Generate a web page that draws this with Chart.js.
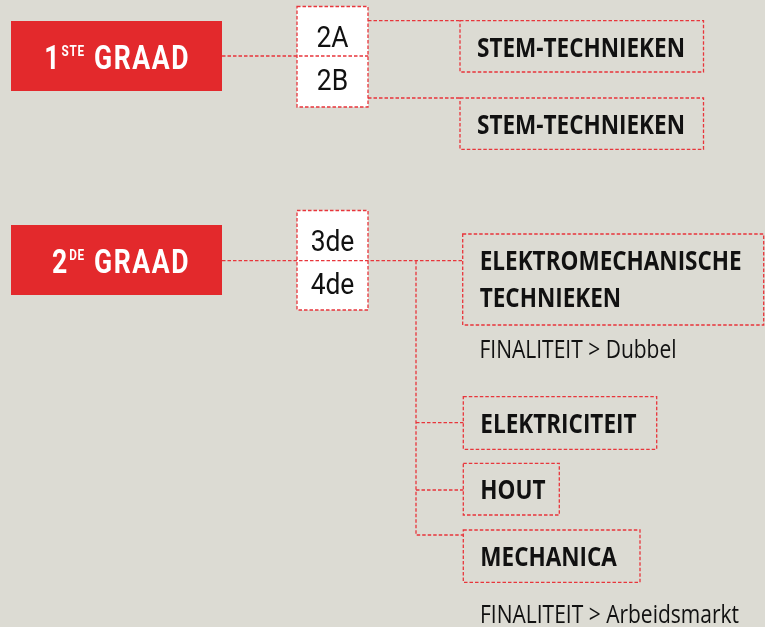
<!DOCTYPE html>
<html>
<head>
<meta charset="utf-8">
<script src="https://cdn.jsdelivr.net/npm/chart.js@4.4.1/dist/chart.umd.min.js"></script>
<style>
  html, body { margin: 0; padding: 0; background: #dcdbd3; }
  #wrap { width: 765px; height: 627px; }
</style>
</head>
<body>
<div id="wrap"><canvas id="schema" width="765" height="627"></canvas></div>
<script>
// inhoud van het schema
const graden = ['1', '2'];
const gradenSup = ['STE', 'DE'];
const gradenWoord = 'GRAAD';
const jaren = [['2A', '2B'], ['3de', '4de']];
const richtingen1 = [['STEM-TECHNIEKEN'], ['STEM-TECHNIEKEN']];
const richtingen2 = [['ELEKTROMECHANISCHE', 'TECHNIEKEN'], ['ELEKTRICITEIT'], ['HOUT'], ['MECHANICA']];
const finaliteiten = ['FINALITEIT > Dubbel', 'FINALITEIT > Arbeidsmarkt'];

// kleuren
const rood = '#e3292c';
const streep = '#e8353b';
const achtergrond = '#dcdbd3';
const zwart = '#111111';

// layout (in schema-eenheden, 1 eenheid = 1 px)
const gradeBoxes = [
  {x: 11, y: 21, w: 211, h: 70},
  {x: 11, y: 225, w: 211, h: 70}
];
const jaarBoxes = [
  {x: 297, y: 6.5, w: 71, h: 100.5, split: 56},
  {x: 297, y: 210.5, w: 71, h: 99.5, split: 260.7}
];
const richtingBoxes = [
  {x: 460, y: 20.7, w: 243.5, h: 51.3},
  {x: 460, y: 98, w: 243.5, h: 51.3},
  {x: 462.7, y: 234, w: 301, h: 91},
  {x: 463.3, y: 396.7, w: 193.4, h: 52.6},
  {x: 463.3, y: 463.3, w: 96, h: 51.7},
  {x: 463.3, y: 530, w: 176.7, h: 52.3}
];
const finaliteitPos = [{x: 479.5, y: 358.3}, {x: 480, y: 622.7}];
const verbindingen = [
  [[222, 56], [368, 56]],
  [[368, 20.7], [460, 20.7]],
  [[368, 98], [460, 98]],
  [[222, 260.7], [462.7, 260.7]],
  [[416, 260.7], [416, 535], [463.3, 535]],
  [[416, 422.7], [463.3, 422.7]],
  [[416, 490], [463.3, 490]]
];

const fontVet = 'bold 26px "Open Sans", "DejaVu Sans", sans-serif';
const fontLicht = '26px "Open Sans", "DejaVu Sans", sans-serif';
const fontGraad = 'bold 34px Roboto, "DejaVu Sans", sans-serif';
const fontSup = 'bold 15px Roboto, "DejaVu Sans", sans-serif';
const fontJaar = '30px Roboto, "DejaVu Sans", sans-serif';

function tekst(ctx, s, x, y, font, sx, align, spacing) {
  ctx.save();
  ctx.font = font;
  ctx.letterSpacing = spacing || '0px';
  ctx.translate(x, y);
  ctx.scale(sx, 1);
  ctx.textAlign = align || 'left';
  ctx.textBaseline = 'alphabetic';
  ctx.fillText(s, 0, 0);
  ctx.restore();
}

function breedte(ctx, s, font, spacing) {
  ctx.save();
  ctx.font = font;
  ctx.letterSpacing = spacing || '0px';
  const w = ctx.measureText(s).width;
  ctx.restore();
  return w;
}

const schemaPlugin = {
  id: 'schema',
  beforeDraw(chart) {
    const ctx = chart.ctx;
    ctx.save();
    ctx.fillStyle = achtergrond;
    ctx.fillRect(0, 0, chart.width, chart.height);
    ctx.restore();
  },
  beforeDatasetsDraw(chart) {
    const ctx = chart.ctx;
    const px = v => chart.scales.x.getPixelForValue(v);
    const py = v => chart.scales.y.getPixelForValue(v);
    const rect = b => [px(b.x), py(b.y), px(b.x + b.w) - px(b.x), py(b.y + b.h) - py(b.y)];

    ctx.save();
    // rode graad-blokken
    ctx.fillStyle = rood;
    gradeBoxes.forEach(b => ctx.fillRect(...rect(b)));

    // witte jaar-blokken met stippellijn
    ctx.lineWidth = 1.3;
    ctx.strokeStyle = streep;
    ctx.setLineDash([3.5, 2]);
    jaarBoxes.forEach(b => {
      ctx.fillStyle = '#ffffff';
      ctx.fillRect(...rect(b));
      ctx.strokeRect(...rect(b));
    });
    // richtingen
    richtingBoxes.forEach(b => ctx.strokeRect(...rect(b)));
    ctx.restore();
  },
  afterDatasetsDraw(chart) {
    const ctx = chart.ctx;
    const px = v => chart.scales.x.getPixelForValue(v);
    const py = v => chart.scales.y.getPixelForValue(v);

    // graad-labels
    const sp = '2px';
    const sx = 96 / breedte(ctx, gradenWoord, fontGraad, sp);
    ctx.fillStyle = '#ffffff';
    gradeBoxes.forEach((b, i) => {
      const base = py(b.y + 48);
      const rechts = px(b.x + 179);
      tekst(ctx, gradenWoord, rechts, base, fontGraad, sx, 'right', sp);
      const supEind = rechts - 96 - 9;
      const wSup = breedte(ctx, gradenSup[i], fontSup, '1px') * sx;
      tekst(ctx, gradenSup[i], supEind, base - 13.5, fontSup, sx, 'right', '1px');
      tekst(ctx, graden[i], supEind - wSup - 2, base, fontGraad, sx, 'right');
    });

    // jaren
    ctx.fillStyle = zwart;
    jaarBoxes.forEach((b, i) => {
      const cx = px(b.x + b.w / 2);
      tekst(ctx, jaren[i][0], cx, py(b.split - 9.5), fontJaar, 0.88, 'center');
      tekst(ctx, jaren[i][1], cx, py(b.split + 33.5), fontJaar, 0.88, 'center');
    });

    // richtingen
    const sv = 262 / breedte(ctx, 'ELEKTROMECHANISCHE', fontVet);
    const alle = richtingen1.concat(richtingen2);
    richtingBoxes.forEach((b, i) => {
      alle[i].forEach((regel, j) => {
        tekst(ctx, regel, px(b.x + 17), py(b.y + 36 + j * 37.4), fontVet, sv, 'left');
      });
    });

    // finaliteiten
    const sl = 259 / breedte(ctx, finaliteiten[1], fontLicht);
    finaliteiten.forEach((f, i) => {
      tekst(ctx, f, px(finaliteitPos[i].x), py(finaliteitPos[i].y), fontLicht, sl, 'left');
    });
  }
};

const config = {
  type: 'scatter',
  data: {
    datasets: verbindingen.map(pts => ({
      data: pts.map(([x, y]) => ({x, y})),
      showLine: true,
      borderColor: streep,
      borderWidth: 1.3,
      borderDash: [3.5, 2],
      pointRadius: 0,
      fill: false,
      tension: 0
    }))
  },
  options: {
    responsive: false,
    animation: false,
    events: [],
    layout: { padding: 0 },
    plugins: { legend: { display: false }, tooltip: { enabled: false } },
    scales: {
      x: { type: 'linear', min: 0, max: 765, display: false },
      y: { type: 'linear', min: 0, max: 627, reverse: true, display: false }
    }
  },
  plugins: [schemaPlugin]
};

document.addEventListener('DOMContentLoaded', function () {
  const ctx = document.getElementById('schema').getContext('2d');
  new Chart(ctx, config);
});
</script>
</body>
</html>
